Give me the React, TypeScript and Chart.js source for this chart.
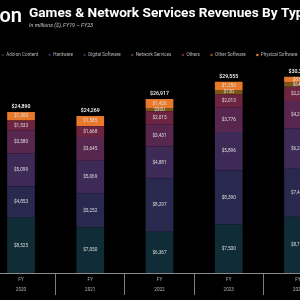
import React, { useEffect, useRef } from "react";
import { Chart, registerables } from "chart.js";

Chart.register(...registerables);

// Fiscal years shown on the x axis
const years = ["2020", "2021", "2022", "2023", "2024"];

// Revenue by type, in millions of US dollars (stack order: bottom to top)
const addOnContent = [8525, 7050, 6367, 7500, 8710];
const hardware = [4853, 5252, 8297, 8390, 7420];
const digitalSoftware = [5099, 5069, 4881, 5896, 6240];
const networkServices = [3580, 3645, 3431, 3776, 4210];
const others = [1533, 1668, 2015, 2013, 2230];
const otherSoftware = [0, 0, 500, 730, 640];
const physicalSoftware = [1300, 1585, 1426, 1250, 870];

const seriesNames = [
  "Add-on Content",
  "Hardware",
  "Digital Software",
  "Network Services",
  "Others",
  "Other Software",
  "Physical Software",
];
const seriesValues = [
  addOnContent,
  hardware,
  digitalSoftware,
  networkServices,
  others,
  otherSoftware,
  physicalSoftware,
];
const seriesColors = [
  "#0f2c37",
  "#29294f",
  "#3d2a57",
  "#58274f",
  "#6c2440",
  "#7c5616",
  "#e8782a",
];

const TITLE = "Games & Network Services Revenues By Type";
const SUBTITLE = "In millions ($), FY19 – FY23";
const BRAND = "on";

// canvas is shifted left so the first category boundary sits off-screen
const SHIFT = 40;
const FONT = "Roboto, 'Noto Sans', sans-serif";
const X_AXIS_HEIGHT = 24;

const fmt = (v: number) => "$" + v.toLocaleString("en-US");

const headerPlugin = {
  id: "header",
  beforeDraw(chart: any) {
    const ctx = chart.ctx as CanvasRenderingContext2D;
    ctx.save();
    ctx.fillStyle = "#000";
    ctx.fillRect(0, 0, chart.width, chart.height);

    ctx.textAlign = "left";
    ctx.textBaseline = "alphabetic";
    ctx.fillStyle = "#ffffff";
    ctx.font = `600 20px ${FONT}`;
    ctx.fillText(BRAND, SHIFT - 0.5, 21.7);

    ctx.font = `700 13.65px ${FONT}`;
    ctx.fillText(TITLE, SHIFT + 29, 16.7);

    ctx.fillStyle = "#c8c8c8";
    ctx.font = `italic 5.4px ${FONT}`;
    ctx.fillText(SUBTITLE, SHIFT + 29, 26.6);

    // legend row
    ctx.font = `4.6px ${FONT}`;
    ctx.textBaseline = "middle";
    let x = SHIFT + 1.5;
    const y = 55;
    chart.data.datasets.forEach((ds: any) => {
      ctx.fillStyle = ds.backgroundColor;
      ctx.beginPath();
      ctx.arc(x + 1.3, y, 1.3, 0, Math.PI * 2);
      ctx.fill();
      ctx.fillStyle = "#b8b8b8";
      ctx.fillText(ds.label, x + 4.8, y);
      x += 4.8 + ctx.measureText(ds.label).width + 10.3;
    });
    ctx.restore();
  },
};

const valueLabelPlugin = {
  id: "valueLabels",
  afterDatasetsDraw(chart: any) {
    const ctx = chart.ctx as CanvasRenderingContext2D;
    ctx.save();
    ctx.textAlign = "center";
    ctx.textBaseline = "middle";
    ctx.font = `4.7px ${FONT}`;
    ctx.fillStyle = "#dedede";
    chart.data.datasets.forEach((ds: any, di: number) => {
      const meta = chart.getDatasetMeta(di);
      meta.data.forEach((bar: any, i: number) => {
        const v = ds.data[i] as number;
        if (!v) return;
        const p = bar.getProps(["x", "y", "base"], true);
        ctx.fillText(fmt(v), p.x, (p.y + p.base) / 2);
      });
    });

    ctx.font = `500 5.2px ${FONT}`;
    ctx.fillStyle = "#ffffff";
    const yScale = chart.scales.y;
    const first = chart.getDatasetMeta(0);
    first.data.forEach((bar: any, i: number) => {
      const total = chart.data.datasets.reduce(
        (s: number, ds: any) => s + (ds.data[i] as number),
        0
      );
      const top = yScale.getPixelForValue(total);
      ctx.fillText(fmt(total), bar.x, top - 5.5);
    });
    ctx.restore();
  },
};

export default function App() {
  const canvasRef = useRef<HTMLCanvasElement | null>(null);

  useEffect(() => {
    const canvas = canvasRef.current;
    if (!canvas) return;
    const chart = new Chart(canvas, {
      type: "bar",
      data: {
        labels: years.map((y) => ["FY", y]),
        datasets: seriesNames.map((name, i) => ({
          label: name,
          data: seriesValues[i],
          backgroundColor: seriesColors[i],
          borderWidth: 0,
          categoryPercentage: 1,
          barPercentage: 0.4,
        })),
      },
      options: {
        animation: false,
        responsive: false,
        maintainAspectRatio: false,
        layout: { padding: { left: 26.4, right: 27.4, top: 66, bottom: 3 } },
        plugins: {
          legend: { display: false },
          title: { display: false },
          tooltip: { enabled: false },
        },
        scales: {
          x: {
            stacked: true,
            afterFit: (scale: any) => {
              scale.height = X_AXIS_HEIGHT;
            },
            grid: {
              offset: true,
              drawOnChartArea: false,
              drawTicks: true,
              tickLength: 22,
              color: "#7c7c7c",
              lineWidth: 1,
            },
            border: { display: true, color: "#8a8a8a", width: 1 },
            ticks: {
              color: "#b4b4b4",
              font: { size: 4.6, family: FONT, lineHeight: 2.2 },
              padding: -20,
              maxRotation: 0,
              autoSkip: false,
            },
          },
          y: {
            stacked: true,
            display: false,
            min: 0,
            max: 32000,
          },
        },
      },
      plugins: [headerPlugin, valueLabelPlugin],
    });
    return () => chart.destroy();
  }, []);

  return (
    <div
      style={{
        position: "fixed",
        left: 0,
        top: 0,
        width: 300,
        height: 300,
        overflow: "hidden",
        background: "#000",
      }}
    >
      <canvas
        ref={canvasRef}
        width={400}
        height={300}
        style={{ position: "absolute", left: -SHIFT, top: 0, width: 400, height: 300 }}
      />
    </div>
  );
}
